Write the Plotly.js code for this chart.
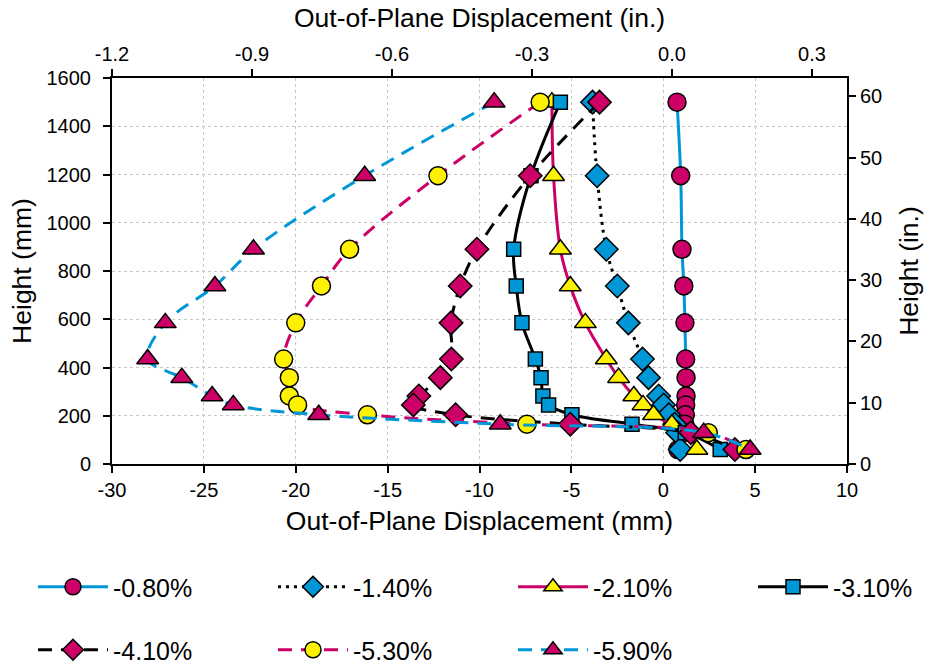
<!DOCTYPE html>
<html>
<head>
<meta charset="utf-8">
<script src="https://cdn.plot.ly/plotly-3.0.1.min.js"></script>
<style>html,body{margin:0;padding:0;background:#fff;}#chart{width:932px;height:667px;}</style>
</head>
<body>
<div id="chart"></div>
<script>
// Heights of measurement points (mm)
const heights = [1500, 1195, 890, 738, 585, 435, 358, 282, 245, 204, 165, 130, 60];

// Out-of-plane displacement (mm) per drift level
const labels = ["-0.80%", "-1.40%", "-2.10%", "-3.10%", "-4.10%", "-5.30%", "-5.90%"];
const d080 = [0.75, 0.95, 1.02, 1.12, 1.18, 1.22, 1.24, 1.24, 1.22, 1.20, 1.18, 1.10, 0.80];
const d140 = [-3.85, -3.60, -3.10, -2.50, -1.90, -1.13, -0.80, -0.25, 0.02, 0.30, 0.62, 0.78, 0.92];
const d210 = [-6.06, -5.97, -5.60, -5.06, -4.24, -3.10, -2.43, -1.60, -1.10, -0.53, 0.47, 1.40, 1.83];
const d310 = [-5.60, -7.20, -8.14, -8.00, -7.69, -6.96, -6.65, -6.55, -6.24, -4.97, -1.70, 1.20, 3.10];
const d410 = [-3.47, -7.24, -10.14, -11.05, -11.55, -11.53, -12.13, -13.30, -13.60, -11.30, -5.06, 1.50, 3.90];
const d530 = [-6.70, -12.26, -17.07, -18.60, -20.00, -20.66, -20.35, -20.35, -19.90, -16.10, -7.42, 2.45, 4.50];
const d590 = [-9.20, -16.25, -22.30, -24.40, -27.10, -28.06, -26.20, -24.55, -23.40, -18.75, -8.87, 2.20, 4.73];

// Tick values
const xTicksMm = [-30, -25, -20, -15, -10, -5, 0, 5, 10];
const xTicksIn = [-1.2, -0.9, -0.6, -0.3, 0.0, 0.3];
const yTicksMm = [0, 200, 400, 600, 800, 1000, 1200, 1400, 1600];
const yTicksIn = [0, 10, 20, 30, 40, 50, 60];

const MM_PER_IN = 25.4;

const BLUE = "#0097D7", MAG = "#CC0066", YEL = "#FFF200", BLK = "#000000";
const FONT = "Arial, 'Liberation Sans', sans-serif";
const TITLE_SIZE = 26.5;

function tr(name, xs, lineColor, dash, sym, fill, size, legend) {
  return {
    type: "scatter", mode: "lines+markers", name: name,
    x: xs, y: heights, legend: legend,
    line: {color: lineColor, width: 3, dash: dash, shape: "spline", smoothing: 1},
    marker: {symbol: sym, color: fill, size: size, line: {color: BLK, width: 1.5}},
    hoverinfo: "skip"
  };
}

const DASH = "14px,9px";
const traces = [
  tr(labels[0], d080, BLUE, "solid", "circle", MAG, 18, "legend"),
  tr(labels[1], d140, BLK, "3px,5px", "diamond", BLUE, 18, "legend2"),
  tr(labels[2], d210, MAG, "solid", "triangle-up", YEL, 19, "legend3"),
  tr(labels[3], d310, BLK, "solid", "square", BLUE, 14, "legend4"),
  tr(labels[4], d410, BLK, DASH, "diamond", MAG, 18, "legend5"),
  tr(labels[5], d530, MAG, DASH, "circle", YEL, 18, "legend6"),
  tr(labels[6], d590, BLUE, DASH, "triangle-up", MAG, 19, "legend7"),
  // invisible helper on the secondary (inch) axes so they are drawn
  {type: "scatter", mode: "markers", x: d080.map(v => v / MM_PER_IN), y: heights.map(v => v / MM_PER_IN),
   xaxis: "x2", yaxis: "y2", marker: {opacity: 0}, showlegend: false, hoverinfo: "skip"}
];

const axBase = {
  showline: true, linecolor: BLK, linewidth: 2, ticks: "outside", ticklen: 7, tickwidth: 2, tickcolor: BLK,
  zeroline: false, tickfont: {family: FONT, size: 20, color: BLK}, tickmode: "array"
};

function leg(px, py) {
  return {
    orientation: "h", xref: "container", yref: "container",
    x: px / 932, y: 1 - py / 667, yanchor: "middle", xanchor: "left",
    font: {family: FONT, size: 25, color: BLK}, bgcolor: "rgba(0,0,0,0)",
    itemwidth: 70, borderwidth: 0
  };
}

const colX = [33, 273, 513, 753];
const rowY = [587, 650];

const layout = {
  width: 932, height: 667,
  margin: {l: 112, r: 85, t: 78, b: 203},
  paper_bgcolor: "#fff", plot_bgcolor: "#fff",
  font: {family: FONT, color: BLK},
  showlegend: true, hovermode: false,
  xaxis: Object.assign({}, axBase, {
    range: [-30, 10], tickvals: xTicksMm, ticktext: xTicksMm.map(String),
    showgrid: true, gridcolor: "#c8c8c8", griddash: "dot", gridwidth: 1,
    title: {text: "Out-of-Plane Displacement (mm)", font: {family: FONT, size: TITLE_SIZE}, standoff: 11}
  }),
  yaxis: Object.assign({}, axBase, {
    range: [0, 1600], tickvals: yTicksMm, ticktext: yTicksMm.map(String), ticklabelstandoff: 8,
    showgrid: true, gridcolor: "#c8c8c8", griddash: "dot", gridwidth: 1,
    title: {text: "Height (mm)", font: {family: FONT, size: TITLE_SIZE}, standoff: 7}
  }),
  xaxis2: Object.assign({}, axBase, {
    overlaying: "x", side: "top", anchor: "y2",
    range: [-1.2, 0.375], tickvals: xTicksIn, ticktext: xTicksIn.map(v => v.toFixed(1)),
    showgrid: false,
    title: {text: "Out-of-Plane Displacement (in.)", font: {family: FONT, size: TITLE_SIZE}, standoff: 8}
  }),
  yaxis2: Object.assign({}, axBase, {
    overlaying: "y", side: "right", anchor: "x2",
    range: [0, 1600 / MM_PER_IN], tickvals: yTicksIn, ticktext: yTicksIn.map(String),
    showgrid: false,
    title: {text: "Height (in.)", font: {family: FONT, size: TITLE_SIZE}, standoff: 18}
  }),
  legend: leg(colX[0], rowY[0]),
  legend2: leg(colX[1], rowY[0]),
  legend3: leg(colX[2], rowY[0]),
  legend4: leg(colX[3], rowY[0]),
  legend5: leg(colX[0], rowY[1]),
  legend6: leg(colX[1], rowY[1]),
  legend7: leg(colX[2], rowY[1])
};

Plotly.newPlot("chart", traces, layout, {displayModeBar: false, staticPlot: true});
</script>
</body>
</html>
